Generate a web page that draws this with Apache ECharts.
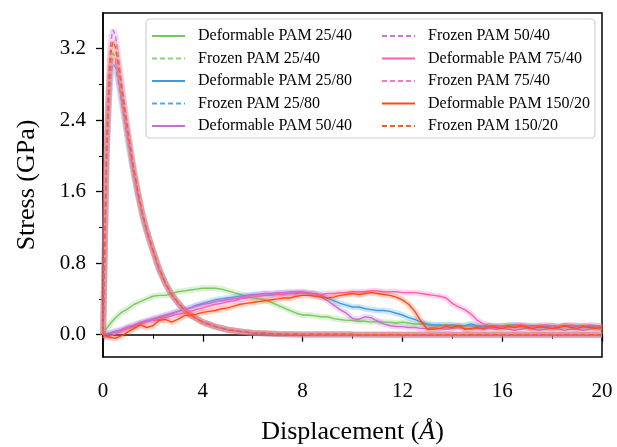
<!DOCTYPE html>
<html><head><meta charset="utf-8">
<script src="https://cdn.jsdelivr.net/npm/echarts@6/dist/echarts.min.js"></script>
<style>html,body{margin:0;padding:0;background:#fff}#c{width:617px;height:447px}</style>
</head><body><div id="c"></div><script>
// ---------- DATA ----------
const names = [
  'Deformable PAM 25/40','Frozen PAM 25/40',
  'Deformable PAM 25/80','Frozen PAM 25/80',
  'Deformable PAM 50/40','Frozen PAM 50/40',
  'Deformable PAM 75/40','Frozen PAM 75/40',
  'Deformable PAM 150/20','Frozen PAM 150/20'
];
const xTicks = [0,4,8,12,16,20];
const yTicks = [0.0,0.8,1.6,2.4,3.2];
const yMinorTicks = [0.4,1.2,2.0,2.8];

// displacement grid for deformable runs (0 .. 20 step 0.25)
const dispX = Array.from({length:81},(_,i)=>i*0.25);
// displacement grid for frozen runs
const frozenX = [0,0.05,0.1,0.15,0.2,0.25,0.3,0.35,0.4,0.45,0.5,0.6,0.7,0.8,0.9,1.0,1.2,1.4,1.6,1.8,2.0,2.25,2.5,2.75,3.0,3.25,3.5,4.0,4.5,5.0,5.5,6.0,7,8,10,12,20];

const defo25_40 = [0.01,0.11,0.19,0.25,0.29,0.34,0.37,0.40,0.43,0.44,0.44,0.46,0.48,0.49,0.50,0.51,0.52,0.52,0.52,0.51,0.49,0.47,0.45,0.43,0.41,0.40,0.39,0.36,0.33,0.30,0.27,0.24,0.22,0.22,0.21,0.20,0.20,0.18,0.17,0.16,0.16,0.15,0.15,0.14,0.15,0.14,0.14,0.13,0.14,0.13,0.12,0.12,0.11,0.10,0.10,0.11,0.10,0.09,0.10,0.10,0.09,0.10,0.10,0.09,0.10,0.11,0.10,0.09,0.10,0.09,0.08,0.09,0.10,0.09,0.10,0.09,0.10,0.09,0.09,0.10,0.09];
const defo25_80 = [0.00,0.01,0.03,0.05,0.08,0.10,0.13,0.15,0.17,0.19,0.21,0.23,0.26,0.28,0.30,0.33,0.35,0.37,0.39,0.40,0.41,0.42,0.43,0.44,0.45,0.45,0.46,0.45,0.46,0.47,0.46,0.47,0.47,0.46,0.46,0.44,0.41,0.38,0.35,0.33,0.31,0.31,0.29,0.28,0.27,0.27,0.26,0.24,0.22,0.19,0.17,0.14,0.12,0.11,0.11,0.10,0.11,0.10,0.10,0.12,0.10,0.09,0.10,0.10,0.09,0.10,0.11,0.10,0.09,0.10,0.10,0.09,0.10,0.09,0.10,0.10,0.09,0.10,0.09,0.08,0.07];
const defo50_40 = [0.00,0.02,0.04,0.06,0.09,0.11,0.14,0.16,0.18,0.20,0.22,0.24,0.26,0.28,0.30,0.32,0.34,0.35,0.37,0.38,0.39,0.40,0.41,0.43,0.44,0.45,0.46,0.46,0.47,0.47,0.48,0.48,0.48,0.47,0.45,0.42,0.38,0.33,0.28,0.24,0.18,0.17,0.20,0.19,0.15,0.12,0.10,0.09,0.09,0.08,0.08,0.07,0.07,0.08,0.07,0.06,0.07,0.08,0.07,0.06,0.07,0.06,0.07,0.06,0.07,0.06,0.05,0.06,0.07,0.06,0.05,0.06,0.07,0.06,0.05,0.06,0.06,0.05,0.06,0.07,0.06];
const defo75_40 = [-0.03,-0.02,0.01,0.04,0.07,0.09,0.12,0.14,0.16,0.17,0.19,0.21,0.23,0.24,0.26,0.28,0.30,0.32,0.34,0.35,0.37,0.38,0.40,0.41,0.42,0.43,0.44,0.44,0.45,0.45,0.46,0.46,0.47,0.46,0.46,0.45,0.46,0.46,0.47,0.47,0.48,0.48,0.48,0.49,0.49,0.48,0.48,0.48,0.47,0.47,0.47,0.46,0.45,0.44,0.43,0.41,0.35,0.31,0.28,0.23,0.16,0.12,0.10,0.09,0.10,0.09,0.10,0.11,0.10,0.09,0.10,0.11,0.10,0.09,0.10,0.11,0.10,0.09,0.11,0.10,0.10];
const defo150_20 = [0.00,-0.03,-0.04,-0.01,0.03,0.07,0.11,0.08,0.10,0.16,0.17,0.14,0.17,0.21,0.22,0.23,0.25,0.26,0.27,0.29,0.30,0.32,0.34,0.35,0.36,0.37,0.38,0.39,0.40,0.41,0.41,0.43,0.44,0.44,0.43,0.42,0.41,0.42,0.44,0.45,0.46,0.45,0.46,0.47,0.46,0.45,0.44,0.42,0.39,0.34,0.26,0.15,0.06,0.06,0.07,0.09,0.08,0.10,0.06,0.07,0.08,0.07,0.09,0.08,0.07,0.09,0.08,0.10,0.08,0.07,0.09,0.08,0.07,0.08,0.10,0.08,0.07,0.09,0.08,0.07,0.08];

const froz25_40 = [0,0.63,1.40,2.08,2.42,2.75,2.98,3.10,3.15,3.16,3.10,2.94,2.75,2.57,2.38,2.20,1.86,1.57,1.31,1.11,0.94,0.73,0.57,0.45,0.36,0.28,0.22,0.14,0.09,0.055,0.035,0.02,0.008,0.003,0.001,0,0];
const froz25_80 = [0,0.60,1.35,2.00,2.33,2.65,2.86,2.98,3.03,3.04,2.99,2.85,2.68,2.51,2.34,2.17,1.84,1.55,1.30,1.10,0.93,0.72,0.57,0.44,0.35,0.28,0.22,0.14,0.09,0.055,0.035,0.02,0.008,0.003,0.001,0,0];
const froz50_40 = [0,0.68,1.50,2.22,2.60,2.97,3.22,3.35,3.41,3.42,3.35,3.14,2.92,2.70,2.49,2.29,1.92,1.61,1.34,1.13,0.95,0.74,0.58,0.45,0.36,0.28,0.22,0.14,0.09,0.055,0.035,0.02,0.008,0.003,0.001,0,0];
const froz75_40 = [0,0.62,1.38,2.05,2.38,2.70,2.92,3.04,3.09,3.10,3.05,2.90,2.72,2.55,2.37,2.20,1.86,1.57,1.31,1.11,0.94,0.73,0.57,0.45,0.36,0.28,0.22,0.14,0.09,0.055,0.035,0.02,0.008,0.003,0.001,0,0];
const froz150_20 = [0,0.65,1.45,2.15,2.50,2.86,3.10,3.22,3.28,3.29,3.22,3.05,2.85,2.65,2.45,2.26,1.90,1.60,1.33,1.13,0.95,0.74,0.58,0.45,0.36,0.28,0.22,0.14,0.09,0.055,0.035,0.02,0.008,0.003,0.001,0,0];

const colors = ['#76c95a','#8ad673','#3d9be6','#4ea8f0','#c66fd4','#cf72df','#ff5eb4','#ff72c4','#ff4a14','#ff5a24'];

// ---------- BUILD ----------
const curves = [
  [dispX,defo25_40],[frozenX,froz25_40],
  [dispX,defo25_80],[frozenX,froz25_80],
  [dispX,defo50_40],[frozenX,froz50_40],
  [dispX,defo75_40],[frozenX,froz75_40],
  [dispX,defo150_20],[frozenX,froz150_20]
];
const FONT = '"Liberation Serif","Times New Roman",serif';
const series = [];
curves.forEach((c,i)=>{
  const data = c[0].map((x,k)=>[x,c[1][k]]);
  const dashed = i%2===1;
  series.push({
    type:'line', name:'band'+i, data, showSymbol:false, symbol:'none', silent:true,
    z:2+i*0.1, lineStyle:{color:colors[i], width:6, opacity:0.25}
  });
  series.push({
    type:'line', name:names[i], data, showSymbol:false, symbol:'none',
    z:2+i*0.1+0.05,
    itemStyle:{color:colors[i]},
    lineStyle:{color:colors[i], width:1.4, type: dashed ? [5,3] : 'solid'}
  });
});

const legendCommon = {
  orient:'vertical', top:28, padding:0, itemWidth:33, itemHeight:14, itemGap:6.5, z:10,
  itemStyle:{opacity:0},
  textStyle:{fontFamily:FONT, fontSize:16, color:'#000', padding:[0,0,0,8]}
};

const chart = echarts.init(document.getElementById('c'), null, {renderer:'canvas'});
chart.setOption({
  animation:false,
  backgroundColor:'#fff',
  grid:{left:103, right:15, top:13, bottom:90, outerBoundsMode:'none', containLabel:false,
        show:true, borderColor:'#000', borderWidth:1.5, backgroundColor:'transparent'},
  graphic:[{
    type:'rect', z:5, shape:{x:146, y:19, width:449, height:119, r:4},
    style:{fill:'rgba(255,255,255,0.85)', stroke:'#d0d0d0', lineWidth:1.2}
  }],
  legend:[
    Object.assign({}, legendCommon, {left:151, data:names.slice(0,5)}),
    Object.assign({}, legendCommon, {left:381, data:names.slice(5)})
  ],
  xAxis:{
    type:'value', min:0, max:20, interval:4,
    name:'{n|Displacement (}{i|Å}{n|)}', nameLocation:'middle', nameGap:62,
    nameTextStyle:{rich:{n:{fontFamily:FONT, fontSize:26, color:'#000'}, i:{fontFamily:FONT, fontSize:26, fontStyle:'italic', color:'#000'}}},
    axisLine:{lineStyle:{color:'#000', width:1.5}},
    axisTick:{inside:false, length:7, lineStyle:{color:'#000', width:1.3}},
    minorTick:{show:true, splitNumber:2, length:4, lineStyle:{color:'#000', width:1}},
    axisLabel:{fontFamily:FONT, fontSize:21, color:'#000', margin:24},
    splitLine:{show:false}
  },
  yAxis:[{
    type:'value', min:-0.25, max:3.6,
    name:'Stress (GPa)', nameLocation:'middle', nameGap:63,
    nameTextStyle:{fontFamily:FONT, fontSize:26, color:'#000'},
    axisLine:{show:true, lineStyle:{color:'#000', width:1.5}},
    axisTick:{show:true, length:7, customValues:yTicks, lineStyle:{color:'#000', width:1.3}},
    axisLabel:{fontFamily:FONT, fontSize:21, color:'#000', margin:17, customValues:yTicks, formatter:v=>Number(v).toFixed(1)},
    splitLine:{show:false}
  },{
    type:'value', min:-0.25, max:3.6, position:'left',
    axisLine:{show:false},
    axisTick:{show:true, length:4, customValues:yMinorTicks, lineStyle:{color:'#000', width:1}},
    axisLabel:{show:false},
    splitLine:{show:false}
  }],
  series
});
</script></body></html>
